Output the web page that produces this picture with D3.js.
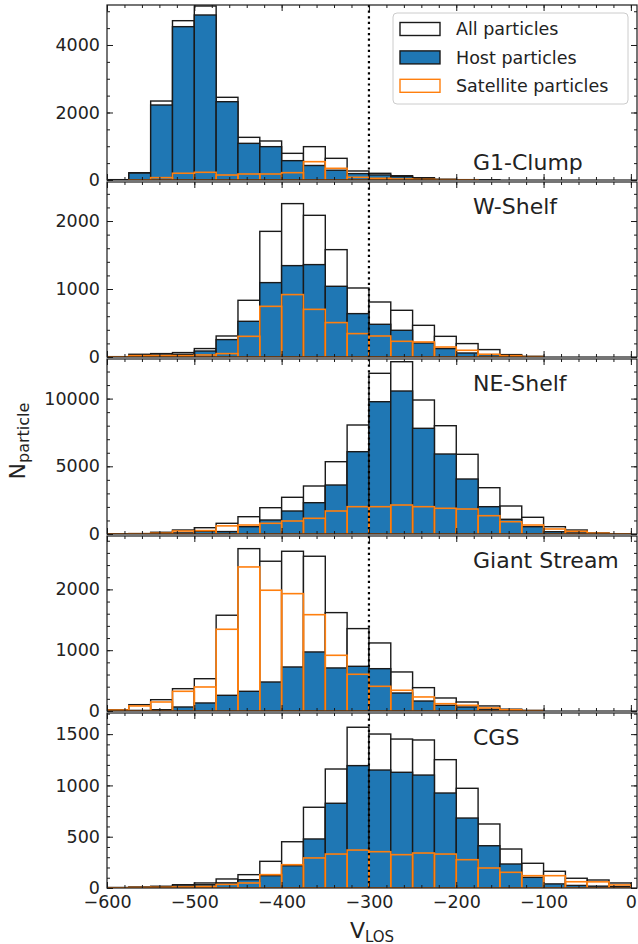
<!DOCTYPE html>
<html>
<head>
<meta charset="utf-8">
<script src="https://cdn.jsdelivr.net/npm/d3@7"></script>
<style>
  html, body { margin: 0; padding: 0; background: #fff; }
  svg { display: block; font-family: "DejaVu Sans", sans-serif; }
</style>
</head>
<body>
<svg id="chart" width="638" height="944"></svg>
<script>
// ---------------- DATA ----------------
// left edges of the 25 km/s bins
const binStarts = [-600, -575, -550, -525, -500, -475, -450, -425, -400, -375, -350, -325,
                   -300, -275, -250, -225, -200, -175, -150, -125, -100, -75, -50, -25];
const binWidth = 25;

const panelNames = ["G1-Clump", "W-Shelf", "NE-Shelf", "Giant Stream", "CGS"];

// G1-Clump
const g1All  = [10, 216, 2340, 4720, 5155, 2450, 1264, 1156, 790, 988, 642, 267, 198, 127, 68, 20, 10, 5, 0, 0, 0, 0, 0, 0];
const g1Host = [5, 205, 2222, 4543, 4889, 2320, 1086, 988, 573, 430, 290, 190, 150, 100, 50, 15, 5, 0, 0, 0, 0, 0, 0, 0];
const g1Sat  = [0, 5, 70, 200, 228, 148, 178, 178, 217, 543, 346, 80, 50, 30, 20, 10, 5, 0, 0, 0, 0, 0, 0, 0];
// W-Shelf
const wsAll  = [5, 40, 50, 65, 124, 309, 834, 1848, 2256, 2084, 1579, 1015, 809, 687, 466, 304, 197, 109, 35, 10, 0, 0, 0, 0];
const wsHost = [2, 20, 30, 40, 88, 256, 525, 1094, 1344, 1359, 1040, 638, 481, 393, 206, 124, 59, 35, 12, 4, 0, 0, 0, 0];
const wsSat  = [3, 20, 20, 20, 30, 50, 304, 745, 918, 701, 506, 344, 309, 231, 221, 147, 99, 40, 20, 5, 0, 0, 0, 0];
// NE-Shelf
const neAll  = [10, 30, 126, 295, 465, 790, 1277, 1942, 2711, 3545, 5340, 8050, 11868, 12725, 9896, 7998, 5886, 3419, 2068, 1234, 540, 295, 80, 20];
const neHost = [3, 10, 60, 80, 200, 180, 540, 1034, 1699, 2312, 3618, 6079, 9771, 10561, 7806, 5908, 4062, 2017, 1086, 540, 170, 80, 20, 5];
const neSat  = [5, 20, 60, 220, 250, 600, 664, 790, 960, 1159, 1699, 2017, 2017, 2141, 2017, 1898, 1846, 1351, 909, 664, 369, 200, 60, 15];
// Giant Stream
const gsAll  = [20, 104, 186, 367, 531, 1575, 2670, 2463, 2627, 2545, 1618, 1355, 1119, 642, 384, 214, 148, 83, 30, 10, 0, 0, 0, 0];
const gsHost = [5, 10, 21, 66, 132, 258, 324, 477, 724, 971, 708, 735, 696, 296, 164, 94, 66, 30, 10, 5, 0, 0, 0, 0];
const gsSat  = [15, 83, 148, 324, 395, 1344, 2369, 1986, 1930, 1584, 916, 604, 406, 341, 231, 120, 94, 50, 20, 5, 0, 0, 0, 0];
// CGS
const cgsAll  = [5, 10, 17, 32, 49, 88, 130, 260, 451, 787, 1160, 1567, 1501, 1452, 1443, 1251, 972, 624, 380, 241, 163, 95, 78, 49];
const cgsHost = [3, 5, 10, 20, 32, 50, 81, 120, 217, 478, 826, 1193, 1150, 1128, 1101, 926, 682, 412, 234, 104, 40, 25, 18, 15];
const cgsSat  = [2, 5, 7, 10, 15, 35, 49, 130, 227, 293, 331, 370, 354, 325, 341, 331, 276, 195, 153, 120, 120, 61, 60, 30];

// axis limits & tick labels
const xDomain = [-600, 7];
const xTicks = [-600, -500, -400, -300, -200, -100, 0];
const xMinor = d3.range(-600, 8, 20);
const yMaxes = [5185, 2574, 12925, 2878, 1706];
const yTicksList = [[0, 2000, 4000], [0, 1000, 2000], [0, 5000, 10000], [0, 1000, 2000], [0, 500, 1000, 1500]];
const yMinorSteps = [500, 200, 1000, 200, 100];
const vRef = -300;

const legendLabels = ["All particles", "Host particles", "Satellite particles"];

// ---------------- LAYOUT ----------------
const svg = d3.select("#chart");
const left = 107, right = 637;
const panelTops = [5, 182, 359, 536, 713];
const panelH = 175;
const blue = "#1f77b4", orange = "#ff7f0e";

const x = d3.scaleLinear().domain(xDomain).range([left, right]);

const series = [
  [g1All, g1Host, g1Sat], [wsAll, wsHost, wsSat], [neAll, neHost, neSat],
  [gsAll, gsHost, gsSat], [cgsAll, cgsHost, cgsSat]
];

panelNames.forEach((name, i) => {
  const top = panelTops[i], bottom = top + panelH;
  const y = d3.scaleLinear().domain([0, yMaxes[i]]).range([bottom, top]);
  const g = svg.append("g");
  const clipId = "clip" + i;
  svg.append("clipPath").attr("id", clipId).append("rect")
    .attr("x", left).attr("y", top).attr("width", right - left).attr("height", panelH);
  const plot = g.append("g").attr("clip-path", `url(#${clipId})`);

  const [all, host, sat] = series[i];
  const drawBars = (vals, fill, stroke, sw) => {
    plot.append("g").selectAll("rect").data(binStarts).join("rect")
      .attr("x", d => x(d))
      .attr("width", d => x(d + binWidth) - x(d))
      .attr("y", (d, k) => y(vals[k]))
      .attr("height", (d, k) => bottom - y(vals[k]))
      .attr("fill", fill).attr("stroke", stroke).attr("stroke-width", sw);
  };
  drawBars(all, "#ffffff", "#1a1a1a", 1.4);
  drawBars(host, blue, "#1a1a1a", 1.4);
  drawBars(sat, "none", orange, 1.6);

  // dotted reference line
  plot.append("line")
    .attr("x1", x(vRef)).attr("x2", x(vRef))
    .attr("y1", top).attr("y2", bottom)
    .attr("stroke", "#000").attr("stroke-width", 2.2)
    .attr("stroke-dasharray", "2.2,3.4");

  // axes (inward ticks on all sides)
  const yMinor = d3.range(0, yMaxes[i], yMinorSteps[i]);
  const styleAxis = sel => {
    sel.select(".domain").remove();
    sel.selectAll("line").attr("stroke", "#1a1a1a").attr("stroke-width", 1);
    sel.selectAll("text").attr("fill", "#222").style("font-size", "17.5px")
      .style("font-family", "DejaVu Sans, sans-serif");
  };
  g.append("g").attr("transform", `translate(${left},0)`)
    .call(d3.axisLeft(y).tickValues(yTicksList[i]).tickSize(-6).tickPadding(7).tickFormat(d3.format("d")))
    .call(styleAxis);
  g.append("g").attr("transform", `translate(${left},0)`)
    .call(d3.axisLeft(y).tickValues(yMinor).tickSize(-3).tickFormat(""))
    .call(styleAxis);
  g.append("g").attr("transform", `translate(${right},0)`)
    .call(d3.axisRight(y).tickValues(yTicksList[i]).tickSize(-6).tickFormat(""))
    .call(styleAxis);
  g.append("g").attr("transform", `translate(${right},0)`)
    .call(d3.axisRight(y).tickValues(yMinor).tickSize(-3).tickFormat(""))
    .call(styleAxis);

  const isLast = i === panelNames.length - 1;
  g.append("g").attr("transform", `translate(0,${bottom})`)
    .call(d3.axisBottom(x).tickValues(xTicks).tickSize(-6).tickPadding(7.5)
      .tickFormat(isLast ? (d => d3.format("d")(d).replace("-", "\u2212")) : ""))
    .call(styleAxis);
  g.append("g").attr("transform", `translate(0,${bottom})`)
    .call(d3.axisBottom(x).tickValues(xMinor).tickSize(-3).tickFormat(""))
    .call(styleAxis);
  g.append("g").attr("transform", `translate(0,${top})`)
    .call(d3.axisTop(x).tickValues(xTicks).tickSize(-6).tickFormat(""))
    .call(styleAxis);
  g.append("g").attr("transform", `translate(0,${top})`)
    .call(d3.axisTop(x).tickValues(xMinor).tickSize(-3).tickFormat(""))
    .call(styleAxis);

  // frame
  g.append("rect").attr("x", left).attr("y", top).attr("width", right - left).attr("height", panelH)
    .attr("fill", "none").attr("stroke", "#1a1a1a").attr("stroke-width", 1.2);

  // panel label
  g.append("text")
    .attr("x", 473).attr("y", i === 0 ? bottom - 10 : top + 32)
    .attr("fill", "#222").style("font-size", "22px").text(name);
});

// legend
const lg = svg.append("g");
lg.append("rect").attr("x", 393).attr("y", 13).attr("width", 235).attr("height", 91).attr("rx", 4)
  .attr("fill", "#fff").attr("fill-opacity", 0.8).attr("stroke", "#cccccc").attr("stroke-width", 1);
const swatchStyles = [["#fff", "#1a1a1a"], [blue, "#1a1a1a"], ["#fff", orange]];
legendLabels.forEach((lab, k) => {
  const cy = 29 + k * 28.4;
  lg.append("rect").attr("x", 400).attr("y", cy - 6.5).attr("width", 40).attr("height", 13)
    .attr("fill", swatchStyles[k][0]).attr("stroke", swatchStyles[k][1]).attr("stroke-width", 1.4);
  lg.append("text").attr("x", 456).attr("y", cy).attr("dy", "0.36em")
    .attr("fill", "#222").style("font-size", "17.5px").text(lab);
});

// axis titles
const xl = svg.append("text").attr("x", 372).attr("y", 938).attr("text-anchor", "middle").attr("fill", "#222");
xl.append("tspan").style("font-size", "22px").text("V");
xl.append("tspan").style("font-size", "15px").attr("dy", 4).text("LOS");

const yl = svg.append("text").attr("transform", "translate(25,441) rotate(-90)")
  .attr("text-anchor", "middle").attr("fill", "#222");
yl.append("tspan").style("font-size", "22px").text("N");
yl.append("tspan").style("font-size", "16px").attr("dy", 4).text("particle");
</script>
</body>
</html>
